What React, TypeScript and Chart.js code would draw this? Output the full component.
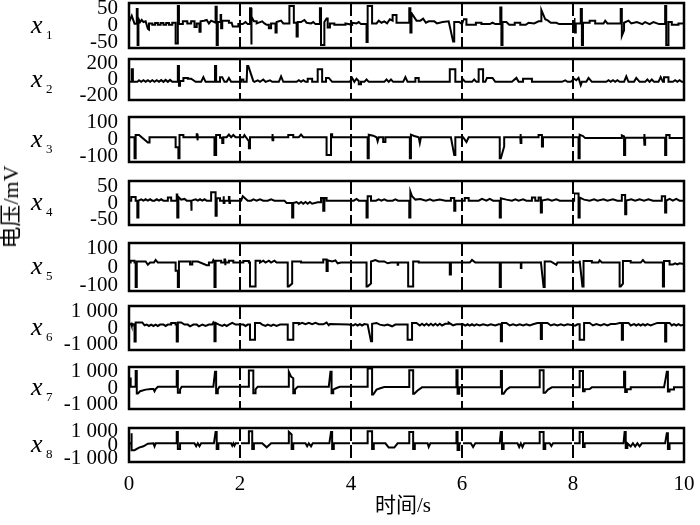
import React, { useEffect, useRef } from 'react';
import { Chart, registerables } from 'chart.js';

Chart.register(...registerables);

// ---------- data ----------
const seriesNames = ['1', '2', '3', '4', '5', '6', '7', '8'];
const yTickMax = [50, 200, 100, 50, 100, 1000, 1000, 1000];
const yRange = [65, 260, 130, 65, 130, 1300, 1300, 1300];
const xTicks = [0, 2, 4, 6, 8, 10];
const dividers = [2, 4, 6, 8];
const xTitle = '时间/s';
const yTitle = '电压/mV';

type P = [number, number];

const x1: P[] = [
  [0, 10], [0.05, 28], [0.1, 5], [0.14, 5], [0.14, 48], [0.155, 48], [0.155, -56], [0.17, -56], [0.17, 20],
  [0.2, 10], [0.23, 16], [0.26, 10], [0.3, 12], [0.34, -10], [0.36, -12], [0.36, 6], [0.42, 6], [0.42, 2],
  [0.47, 2], [0.47, 7], [0.52, 7], [0.52, 2], [0.57, 2], [0.57, 7], [0.62, 7], [0.62, 2], [0.67, 2], [0.67, 7],
  [0.72, 7], [0.72, 2], [0.78, 2], [0.78, 8], [0.84, 8], [0.84, -52], [0.88, -52], [0.88, 56], [0.9, 56], [0.9, 4],
  [0.97, 4], [0.97, 12], [1.05, 12], [1.05, 6], [1.12, 6], [1.12, 12], [1.18, 12], [1.18, -4], [1.22, -4], [1.22, 6],
  [1.27, 6], [1.27, -18], [1.29, -18], [1.29, 12], [1.35, 14], [1.4, 16], [1.44, 6], [1.48, 14], [1.56, 8],
  [1.56, 54], [1.58, 54], [1.58, -56], [1.6, -56], [1.6, 10], [1.65, 10], [1.65, 30], [1.66, 30], [1.66, -8],
  [1.68, -8], [1.68, 14], [1.8, 14], [1.8, 8], [1.85, 8], [1.87, -3], [1.97, -3], [1.97, 4], [2.05, 4], [2.1, 10],
  [2.14, 4], [2.18, 4], [2.18, 50], [2.2, 50], [2.2, -55], [2.21, -55], [2.21, 25], [2.25, 12], [2.3, 12], [2.3, 6],
  [2.4, 12], [2.44, 6], [2.48, 2], [2.52, 2], [2.52, -8], [2.56, -8], [2.56, 6], [2.64, 6], [2.64, -20], [2.66, -20],
  [2.66, 10], [2.74, 14], [2.78, 6], [2.89, 6], [2.89, 56], [2.97, 56], [2.97, 8], [3.02, 8], [3.02, -32], [3.04, -32],
  [3.04, 10], [3.1, 10], [3.16, 16], [3.2, 8], [3.28, 6], [3.32, 10], [3.36, 4], [3.44, 4], [3.44, 50], [3.46, 50],
  [3.46, -56], [3.52, -56], [3.52, 10], [3.56, 20], [3.58, 20], [3.58, -6], [3.62, -6], [3.62, 6], [3.7, 6], [3.7, 2],
  [3.9, 2], [3.9, 6], [4.02, 2], [4.02, 8], [4.1, 6], [4.14, 10], [4.18, 4], [4.28, 4], [4.28, -48], [4.3, -48],
  [4.3, 56], [4.38, 56], [4.38, 6], [4.46, 6], [4.5, 14], [4.55, 8], [4.6, 12], [4.65, 6], [4.7, 18], [4.75, 14],
  [4.75, 30], [4.82, 30], [4.82, 8], [5.05, 8], [5.05, 50], [5.07, 50], [5.07, -20], [5.09, -20], [5.09, 36],
  [5.18, 14], [5.25, 14], [5.3, 20], [5.35, 8], [5.4, 12], [5.5, 12], [5.55, 6], [5.65, 10], [5.76, 12], [5.84, -46],
  [5.86, -46], [5.86, 10], [5.95, 10], [6.0, 4], [6.03, 18], [6.08, 18], [6.08, 2], [6.25, 2], [6.25, 8], [6.35, 8],
  [6.35, 4], [6.5, 4], [6.55, 8], [6.6, 4], [6.69, 4], [6.69, 52], [6.71, 52], [6.71, -56], [6.73, -56], [6.73, 10],
  [6.8, 10], [6.85, 2], [6.95, 2], [6.95, 8], [7.05, 8], [7.05, 2], [7.15, 2], [7.2, 8], [7.3, 6], [7.38, 12],
  [7.43, 12], [7.43, 45], [7.5, 18], [7.55, 14], [7.6, 8], [7.7, 8], [7.75, 4], [8.02, 4], [8.02, 22], [8.03, 22],
  [8.03, -20], [8.05, -20], [8.05, 6], [8.14, 6], [8.14, 48], [8.16, 48], [8.16, -56], [8.18, -56], [8.18, 8],
  [8.3, 8], [8.3, 14], [8.4, 14], [8.4, 6], [8.55, 6], [8.58, 14], [8.62, 6], [8.86, 6], [8.86, 48], [8.88, 48],
  [8.88, -30], [8.92, -14], [8.92, 8], [9.0, 14], [9.05, 6], [9.15, 10], [9.25, 4], [9.3, 10], [9.38, 4], [9.45, 10],
  [9.55, 4], [9.66, 4], [9.66, 56], [9.68, 56], [9.68, -56], [9.72, -56], [9.72, 10], [9.78, 10], [9.78, 2],
  [9.9, 2], [9.9, 6], [10, 6],
];

const x2: P[] = [
  [0, -30], [0.05, -30], [0.05, 130], [0.07, 130], [0.07, -30], [0.15, -30], [0.18, -10], [0.22, -30], [0.26, -10],
  [0.3, -30], [0.34, -10], [0.38, -30], [0.42, -10], [0.46, -30], [0.5, -10], [0.54, -30], [0.58, -8], [0.62, -30],
  [0.66, -5], [0.7, -30], [0.74, -5], [0.78, -30], [0.88, -30], [0.88, 170], [0.9, 170], [0.9, -80], [0.92, -80],
  [0.92, -20], [0.98, -20], [0.98, 20], [1.06, 20], [1.06, 10], [1.12, 10], [1.2, -30], [1.3, -30], [1.34, 30],
  [1.38, -30], [1.55, -30], [1.55, 170], [1.57, 170], [1.57, -30], [1.64, -30], [1.64, 30], [1.68, 30], [1.72, -30],
  [1.76, -30], [1.8, 20], [1.84, -30], [2.02, -30], [2.02, 0], [2.06, 0], [2.06, -30], [2.12, -30], [2.13, 170],
  [2.15, 170], [2.24, -20], [2.26, -30], [2.32, -10], [2.36, -30], [2.42, 0], [2.46, -30], [2.54, -10], [2.58, -30],
  [2.7, -30], [2.74, 40], [2.78, -30], [3.02, -30], [3.06, -10], [3.1, -30], [3.14, -10], [3.18, -30], [3.22, -30],
  [3.22, 10], [3.3, 10], [3.3, -30], [3.4, -30], [3.4, 130], [3.48, 130], [3.48, -30], [3.55, -30], [3.55, 20],
  [3.6, 20], [3.66, -30], [3.98, -30], [4.02, 20], [4.06, -30], [4.1, 10], [4.14, -20], [4.14, -60], [4.18, -60],
  [4.18, -30], [4.24, -30], [4.28, 0], [4.32, -30], [4.6, -30], [4.64, 0], [4.68, -30], [4.72, 0], [4.76, -30],
  [4.94, -30], [4.98, 30], [5.02, -30], [5.16, -30], [5.16, 20], [5.22, 20], [5.22, -30], [5.78, -30], [5.78, 130],
  [5.88, 130], [5.88, -30], [6.0, -30], [6.02, 0], [6.06, -30], [6.18, -30], [6.22, 0], [6.26, -30], [6.3, -30],
  [6.3, 130], [6.38, 130], [6.38, -30], [6.42, -30], [6.45, 20], [6.55, 20], [6.6, -30], [6.9, -30], [6.98, 20],
  [7.02, -30], [7.1, -30], [7.1, 10], [7.26, 10], [7.26, -30], [7.8, -30], [7.86, -10], [7.9, -30], [7.96, -30],
  [8.02, 10], [8.06, -10], [8.1, 20], [8.14, -70], [8.16, -30], [8.24, -30], [8.28, 20], [8.34, -30], [8.6, -30],
  [8.64, -10], [8.68, -30], [8.72, -10], [8.76, -30], [8.8, -10], [8.84, -30], [8.92, -30], [8.96, 40], [9.0, -30],
  [9.1, -30], [9.14, 20], [9.2, -30], [9.3, -30], [9.34, 0], [9.38, -30], [9.42, 0], [9.46, -30], [9.54, -30],
  [9.58, 30], [9.62, -30], [9.64, -30], [9.64, 30], [9.72, 30], [9.72, -30], [9.8, -30], [9.84, -10], [9.88, -30],
  [9.92, -10], [9.96, -30], [10, -30],
];

const x3: P[] = [
  [0, 13], [0.1, 13], [0.1, -108], [0.12, -108], [0.12, 26], [0.18, 26], [0.34, -18], [0.37, -18], [0.37, 13],
  [0.84, 13], [0.84, -45], [0.89, -45], [0.89, -108], [0.91, -108], [0.91, 26], [0.98, 26], [0.98, 13], [1.22, 13],
  [1.22, 30], [1.23, 30], [1.23, -5], [1.24, -5], [1.24, 13], [1.54, 13], [1.54, -90], [1.57, -90], [1.57, 26],
  [1.64, 26], [1.64, 10], [1.68, 10], [1.68, -20], [1.7, -20], [1.7, 13], [1.76, 13], [1.8, 28], [1.84, 13],
  [1.88, 26], [1.92, 13], [2.06, 13], [2.08, 25], [2.16, -10], [2.16, -50], [2.18, -50], [2.18, 13], [2.58, 13],
  [2.58, 32], [2.59, 32], [2.59, -5], [2.6, -5], [2.6, 13], [2.87, 13], [2.87, 26], [2.96, 26], [2.96, 13],
  [3.06, 13], [3.1, 28], [3.14, 13], [3.56, 13], [3.56, -90], [3.64, -90], [3.64, 30], [3.66, 30], [3.66, 13],
  [4.3, 13], [4.3, -108], [4.32, -108], [4.32, 28], [4.4, 22], [4.46, 13], [4.48, -10], [4.5, 13], [4.58, 13],
  [4.58, -15], [4.62, -15], [4.62, 13], [5.06, 13], [5.06, -108], [5.08, -108], [5.08, 28], [5.14, 20], [5.22, 13],
  [5.24, -20], [5.26, 13], [5.8, 13], [5.86, -90], [5.88, -90], [5.88, 13], [6.02, 13], [6.08, -15], [6.12, 13],
  [6.68, 13], [6.68, -108], [6.7, -108], [6.76, -40], [6.76, 13], [7.05, 13], [7.05, 32], [7.06, 32], [7.06, -20],
  [7.07, -20], [7.07, 13], [7.38, 13], [7.38, 26], [7.44, 26], [7.44, -40], [7.46, -40], [7.46, 13], [8.1, 13],
  [8.1, -108], [8.12, -108], [8.12, 28], [8.18, 20], [8.22, 8], [8.88, 8], [8.88, 24], [8.92, 18], [8.92, -90],
  [8.94, -90], [8.94, 10], [9.28, 10], [9.28, 32], [9.29, 32], [9.29, -30], [9.3, -30], [9.3, 10], [9.66, 10],
  [9.66, -90], [9.68, -90], [9.68, 26], [9.74, 26], [9.74, 8], [10, 8],
];

const x4: P[] = [
  [0, 7], [0.04, 7], [0.04, 18], [0.12, 18], [0.12, 7], [0.15, 7], [0.15, -43], [0.17, -43], [0.17, 7], [0.22, 11],
  [0.26, 7], [0.3, 11], [0.34, 7], [0.38, 11], [0.42, 7], [0.46, 7], [0.5, 11], [0.54, 7], [0.58, 11], [0.62, 7],
  [0.7, 7], [0.7, 16], [0.76, 16], [0.76, 7], [0.86, 7], [0.86, 25], [0.87, 25], [0.87, -43], [0.89, -43], [0.89, 18],
  [0.94, 10], [1.0, 12], [1.04, 7], [1.12, 7], [1.12, -23], [1.13, -23], [1.13, 7], [1.2, 11], [1.24, 7], [1.28, 11],
  [1.32, 7], [1.36, 11], [1.4, 7], [1.48, 7], [1.48, 32], [1.56, 32], [1.56, -38], [1.58, -38], [1.58, 14],
  [1.64, 14], [1.64, 7], [1.7, 7], [1.7, 20], [1.71, 20], [1.71, 0], [1.72, 0], [1.72, 7], [1.8, 7], [1.8, 18],
  [1.81, 18], [1.81, 0], [1.82, 0], [1.82, 7], [2.02, 7], [2.05, 20], [2.14, 7], [2.2, 7], [2.24, 11], [2.3, 7],
  [2.36, 11], [2.42, 7], [2.5, 7], [2.56, 11], [2.62, 7], [2.8, 7], [2.84, 0], [2.94, 0], [2.94, -43], [2.96, -43],
  [2.96, 0], [3.02, 3], [3.06, -2], [3.1, 3], [3.14, -2], [3.18, 3], [3.22, -2], [3.26, 3], [3.3, -2], [3.4, 2],
  [3.46, 2], [3.46, 15], [3.5, 15], [3.5, -23], [3.52, -23], [3.52, 15], [3.56, 15], [3.56, 7], [4.05, 7],
  [4.1, 12], [4.14, 7], [4.28, 7], [4.28, -43], [4.3, -43], [4.3, 20], [4.36, 20], [4.36, 7], [4.45, 7], [4.5, 11],
  [4.55, 7], [4.6, 11], [4.65, 7], [4.75, 7], [4.8, 11], [4.85, 7], [5.05, 7], [5.05, -43], [5.07, -43], [5.07, 34],
  [5.1, 20], [5.16, 10], [5.25, 12], [5.35, 7], [5.42, 11], [5.48, 7], [5.6, 10], [5.7, 7], [5.8, 7], [5.8, 15],
  [5.86, 15], [5.86, -23], [5.88, -23], [5.88, 7], [6.05, 7], [6.05, 15], [6.12, 15], [6.12, 7], [6.3, 7],
  [6.36, 12], [6.44, 7], [6.5, 12], [6.56, 7], [6.68, 7], [6.68, -43], [6.7, -43], [6.7, 14], [6.8, 10], [6.9, 7],
  [6.96, 11], [7.02, 7], [7.1, 11], [7.16, 7], [7.26, 7], [7.26, 16], [7.32, 16], [7.32, 7], [7.38, 7], [7.38, 16],
  [7.42, 16], [7.42, -28], [7.44, -28], [7.44, 7], [7.55, 11], [7.62, 7], [7.7, 11], [7.76, 7], [8.02, 7],
  [8.02, 28], [8.1, 28], [8.1, -43], [8.12, -43], [8.12, 16], [8.2, 10], [8.3, 7], [8.38, 11], [8.44, 7],
  [8.55, 11], [8.62, 7], [8.72, 11], [8.8, 7], [8.88, 7], [8.88, 24], [8.94, 24], [8.94, -33], [8.96, -33],
  [8.96, 7], [9.05, 11], [9.12, 7], [9.2, 11], [9.28, 7], [9.36, 11], [9.44, 7], [9.6, 7], [9.6, 20], [9.66, 20],
  [9.66, -28], [9.68, -28], [9.68, 7], [9.74, 12], [9.8, 7], [9.86, 12], [9.92, 7], [10, 7],
];

const x5: P[] = [
  [0, 24], [0.03, 24], [0.03, 34], [0.1, 34], [0.1, 24], [0.12, 24], [0.12, -108], [0.14, -108], [0.14, 30],
  [0.3, 30], [0.34, 12], [0.38, 24], [0.45, 24], [0.48, 38], [0.52, 24], [0.84, 24], [0.84, -20], [0.88, -20],
  [0.88, -108], [0.9, -108], [0.9, 30], [1.1, 30], [1.1, 14], [1.14, 14], [1.14, 30], [1.24, 30], [1.4, 10],
  [1.44, 10], [1.44, 24], [1.5, 24], [1.52, 38], [1.54, 30], [1.54, -108], [1.56, -108], [1.56, 34], [1.66, 34],
  [1.66, 24], [1.72, 24], [1.72, 40], [1.73, 40], [1.73, 10], [1.74, 10], [1.74, 24], [1.8, 24], [1.8, 34],
  [1.88, 34], [1.88, 24], [2.06, 24], [2.06, 32], [2.16, 32], [2.16, 24], [2.18, 24], [2.18, -105], [2.28, -105],
  [2.28, 34], [2.36, 34], [2.36, 24], [2.42, 34], [2.46, 24], [2.52, 34], [2.56, 24], [2.62, 34], [2.66, 24],
  [2.86, 24], [2.86, -105], [2.88, -105], [2.94, -90], [2.94, 30], [3.1, 30], [3.1, 24], [3.5, 24], [3.5, 40],
  [3.56, 40], [3.56, -22], [3.58, -22], [3.58, 36], [3.66, 30], [3.72, 36], [3.76, 20], [3.82, 24], [4.28, 24],
  [4.28, -105], [4.3, -105], [4.36, -90], [4.36, 30], [4.44, 38], [4.5, 30], [4.6, 30], [4.66, 20], [4.72, 24],
  [4.84, 24], [4.84, 12], [4.85, 12], [4.85, 24], [5.03, 24], [5.03, -105], [5.12, -105], [5.12, 30], [5.22, 30],
  [5.22, 24], [5.78, 24], [5.78, -40], [5.8, -40], [5.8, 24], [6.14, 24], [6.18, 38], [6.24, 24], [6.68, 24],
  [6.68, -108], [6.7, -108], [6.7, 24], [7.06, 24], [7.06, -5], [7.07, -5], [7.07, 24], [7.42, 24], [7.42, 30],
  [7.47, -108], [7.49, -108], [7.49, 30], [7.6, 30], [7.7, 12], [7.72, 24], [8.12, 24], [8.12, 34], [8.17, -105],
  [8.19, -105], [8.19, 32], [8.34, 32], [8.34, 24], [8.46, 24], [8.48, 36], [8.52, 24], [8.84, 24], [8.84, -105],
  [8.86, -105], [8.9, -90], [8.9, 32], [9.04, 32], [9.04, 24], [9.22, 24], [9.26, 38], [9.3, 24], [9.62, 24],
  [9.62, -105], [9.64, -105], [9.64, 32], [9.74, 32], [9.74, 14], [9.8, 14], [9.84, 20], [9.88, 14], [9.92, 20],
  [10, 16],
];

const x6: P[] = [
  [0, 220], [0.04, 220], [0.04, 330], [0.05, 330], [0.05, 150], [0.06, 150], [0.06, 220], [0.1, 220], [0.1, -800],
  [0.12, -800], [0.12, 330], [0.24, 330], [0.28, 160], [0.32, 200], [0.36, 120], [0.4, 200], [0.44, 120],
  [0.48, 200], [0.52, 120], [0.56, 200], [0.62, 200], [0.66, 120], [0.7, 200], [0.76, 200], [0.76, 300],
  [0.84, 300], [0.84, 200], [0.86, 200], [0.86, -800], [0.88, -800], [0.88, 330], [0.94, 330], [1.0, 200],
  [1.06, 200], [1.1, 100], [1.16, 200], [1.22, 200], [1.26, 100], [1.32, 200], [1.38, 120], [1.44, 200],
  [1.5, 200], [1.52, 330], [1.54, 250], [1.54, -780], [1.56, -780], [1.56, 300], [1.62, 200], [1.68, 120],
  [1.72, 200], [1.76, 120], [1.8, 200], [1.86, 300], [1.92, 200], [2.06, 200], [2.1, 120], [2.14, 200],
  [2.18, 200], [2.18, -700], [2.27, -700], [2.27, 300], [2.36, 300], [2.4, 200], [2.46, 120], [2.5, 200],
  [2.56, 120], [2.6, 200], [2.66, 120], [2.72, 200], [2.86, 200], [2.86, -700], [2.96, -700], [2.96, 300],
  [3.06, 300], [3.06, 220], [3.12, 300], [3.18, 220], [3.24, 300], [3.3, 220], [3.36, 300], [3.42, 220],
  [3.5, 220], [3.56, 320], [3.6, 160], [3.62, 240], [3.96, 200], [4.04, 150], [4.08, 230], [4.12, 150],
  [4.16, 230], [4.2, 150], [4.24, 230], [4.3, 200], [4.36, -780], [4.38, -780], [4.38, 250], [4.46, 300],
  [4.52, 200], [4.6, 150], [4.66, 200], [4.74, 100], [4.8, 200], [5.02, 200], [5.02, -700], [5.1, -700],
  [5.1, 300], [5.18, 300], [5.24, 150], [5.28, 250], [5.32, 150], [5.36, 250], [5.4, 150], [5.44, 250],
  [5.48, 150], [5.52, 250], [5.56, 150], [5.6, 250], [5.64, 150], [5.7, 250], [5.76, 250], [5.76, 320],
  [5.84, 160], [5.9, 220], [6.02, 220], [6.06, 140], [6.1, 220], [6.14, 140], [6.18, 220], [6.22, 140],
  [6.26, 220], [6.32, 150], [6.38, 220], [6.46, 150], [6.52, 220], [6.6, 150], [6.66, 220], [6.7, 220],
  [6.7, -780], [6.72, -780], [6.72, 300], [6.8, 300], [6.86, 150], [6.92, 220], [6.98, 150], [7.04, 220],
  [7.1, 150], [7.16, 220], [7.22, 150], [7.28, 220], [7.36, 300], [7.42, 300], [7.42, -650], [7.44, -650],
  [7.44, 300], [7.54, 300], [7.6, 150], [7.66, 220], [7.72, 150], [7.78, 220], [7.84, 150], [7.9, 220],
  [8.04, 140], [8.08, 220], [8.12, 220], [8.12, -700], [8.2, -700], [8.2, 300], [8.3, 300], [8.36, 150],
  [8.42, 230], [8.5, 150], [8.56, 230], [8.62, 150], [8.68, 230], [8.76, 230], [8.84, 300], [8.88, 300],
  [8.88, -700], [8.9, -700], [8.9, 300], [9.0, 300], [9.04, 150], [9.1, 230], [9.14, 150], [9.18, 230],
  [9.22, 150], [9.26, 230], [9.3, 150], [9.34, 230], [9.4, 150], [9.46, 230], [9.52, 300], [9.66, 300],
  [9.66, -800], [9.68, -800], [9.68, 300], [9.74, 300], [9.78, 150], [9.82, 230], [9.86, 150], [9.9, 230],
  [9.94, 150], [10, 200],
];

const x7: P[] = [
  [0, 590], [0.03, 590], [0.03, 80], [0.12, 80], [0.12, 1050], [0.14, 1050], [0.14, -340], [0.16, -340],
  [0.2, -200], [0.3, -100], [0.4, -60], [0.44, -60], [0.46, -200], [0.48, -60], [0.52, 80], [0.86, 80],
  [0.86, 1050], [0.88, 1050], [0.88, -300], [0.92, -300], [0.92, -100], [0.95, 80], [1.52, 80], [1.55, 1000],
  [1.57, 1000], [1.57, -320], [1.6, -320], [1.6, -100], [1.63, 80], [2.16, 80], [2.16, 1080], [2.24, 1080],
  [2.24, -320], [2.28, -320], [2.28, -80], [2.32, 80], [2.88, 80], [2.88, 1000], [2.92, 700], [2.96, 600],
  [2.96, -330], [2.99, -330], [2.99, -100], [3.04, 80], [3.6, 80], [3.63, 1000], [3.65, 1000], [3.65, -320],
  [3.68, -320], [3.68, -100], [3.74, 0], [3.8, 80], [4.3, 80], [4.3, 1200], [4.38, 1200], [4.38, -400],
  [4.4, -400], [4.46, -100], [4.54, 0], [4.6, 60], [5.05, 60], [5.05, 1100], [5.12, 1100], [5.12, -350],
  [5.14, -350], [5.2, -150], [5.28, 40], [5.9, 40], [5.9, 1100], [5.92, 1100], [5.92, -350], [5.95, -350],
  [5.95, 40], [6.7, 40], [6.7, 1050], [6.72, 1050], [6.72, -350], [6.75, -350], [6.8, -100], [6.86, 40],
  [7.4, 40], [7.4, 1100], [7.47, 1100], [7.47, -300], [7.5, -300], [7.55, -100], [7.62, 40], [8.12, 40],
  [8.12, 1050], [8.18, 1050], [8.18, -200], [8.21, -200], [8.21, -80], [8.3, -60], [8.34, 40], [8.92, 40],
  [8.92, 1000], [8.94, 1000], [8.94, -250], [8.97, -250], [8.97, -80], [9.04, -80], [9.04, 40], [9.64, 40],
  [9.67, 600], [9.69, 1000], [9.71, 1000], [9.71, -220], [9.74, -220], [9.74, -100], [9.82, -100], [9.82, 40],
  [10, 40],
];

const x8: P[] = [
  [0, 130], [0.04, 130], [0.04, 900], [0.05, 900], [0.05, -400], [0.1, -400], [0.18, -200], [0.26, -100],
  [0.34, 100], [0.44, 130], [0.46, -100], [0.48, 130], [0.86, 130], [0.86, 1000], [0.88, 1000], [0.88, -300],
  [0.92, -300], [0.92, 130], [1.18, 130], [1.21, -100], [1.24, 130], [1.27, -100], [1.3, 130], [1.53, 130],
  [1.56, 1000], [1.58, 1000], [1.58, -300], [1.61, -300], [1.61, 130], [1.84, 130], [1.86, -50], [1.88, 130],
  [1.9, -50], [1.92, 130], [2.16, 130], [2.16, 1050], [2.22, 1050], [2.22, -300], [2.25, -300], [2.25, 130],
  [2.4, 130], [2.48, -180], [2.56, 130], [2.88, 130], [2.88, 1000], [2.93, 800], [2.93, -300], [2.96, -300],
  [2.96, 130], [3.18, 130], [3.21, -100], [3.24, 130], [3.28, -100], [3.31, 130], [3.61, 130], [3.64, 1000],
  [3.66, 1000], [3.66, -300], [3.69, -300], [3.69, 130], [4.3, 130], [4.3, 1050], [4.38, 1050], [4.38, -300],
  [4.41, -300], [4.41, 130], [4.62, 130], [4.68, -200], [4.78, -200], [4.84, 130], [5.05, 130], [5.05, 1000],
  [5.12, 1000], [5.12, -300], [5.15, -300], [5.15, 130], [5.38, 130], [5.4, -150], [5.43, 130], [5.9, 130],
  [5.9, 1000], [5.92, 1000], [5.92, -380], [5.95, -380], [5.95, 130], [6.16, 130], [6.2, -150], [6.24, 130],
  [6.68, 130], [6.7, 1000], [6.72, 1000], [6.72, -300], [6.75, -300], [6.75, 130], [7.0, 130], [7.03, -150],
  [7.06, 130], [7.09, -150], [7.12, 130], [7.4, 130], [7.4, 1000], [7.47, 1000], [7.47, -300], [7.5, -300],
  [7.5, 130], [7.58, 130], [7.61, -80], [7.64, 130], [8.12, 130], [8.12, 1000], [8.18, 1000], [8.18, -150],
  [8.21, -150], [8.21, 130], [8.91, 130], [8.93, 1000], [8.95, 1000], [8.95, -220], [8.98, -220], [8.98, 130],
  [9.04, -120], [9.08, 130], [9.12, -120], [9.16, 130], [9.2, -100], [9.24, 130], [9.66, 130], [9.69, 900],
  [9.71, 900], [9.71, -300], [9.74, -300], [9.74, 130], [10, 130],
];

const allSeries = [x1, x2, x3, x4, x5, x6, x7, x8];

// ---------- layout ----------
const boxTop = [3, 59, 117, 181, 243, 306, 367, 428];
const boxBottom = [48, 100, 162, 225, 291, 350, 409, 462];
const LEFT = 129;
const RIGHT = 684;
const PAD = 14;
const XAXIS_H = 40;
const FONT = "'Liberation Serif','Times New Roman',serif";
const FONT_CJK = "'Liberation Serif','Noto Sans CJK SC',serif";

function fmt(n: number): string {
  const a = Math.abs(n);
  const s = a >= 1000 ? `${Math.floor(a / 1000)} ${String(a % 1000).padStart(3, '0')}` : String(a);
  return n < 0 ? '-' + s : s;
}

const framePlugin = {
  id: 'frame',
  afterDatasetsDraw(chart: any) {
    const { ctx, chartArea: a, scales } = chart;
    ctx.save();
    for (const d of dividers) {
      const x = scales.x.getPixelForValue(d);
      ctx.beginPath();
      ctx.moveTo(x, a.top);
      ctx.lineTo(x, a.bottom);
      ctx.lineWidth = 2;
      ctx.setLineDash([]);
      ctx.strokeStyle = '#fff';
      ctx.stroke();
      ctx.setLineDash([13, 4]);
      ctx.strokeStyle = '#000';
      ctx.stroke();
    }
    ctx.setLineDash([]);
    ctx.lineWidth = 2.5;
    ctx.strokeStyle = '#000';
    ctx.strokeRect(a.left, a.top, a.right - a.left, a.bottom - a.top);
    ctx.restore();
  },
};

function Panel({ index }: { index: number }) {
  const ref = useRef<HTMLCanvasElement | null>(null);
  const isLast = index === allSeries.length - 1;
  const top = boxTop[index] - PAD;
  const height = boxBottom[index] - boxTop[index] + PAD + (isLast ? XAXIS_H : PAD);

  useEffect(() => {
    if (!ref.current) return;
    const M = yTickMax[index];
    const R = yRange[index];
    const chart = new Chart(ref.current, {
      type: 'line',
      data: {
        datasets: [
          {
            data: allSeries[index].map(([x, y]) => ({ x, y })),
            borderColor: '#000',
            borderWidth: 2,
            pointRadius: 0,
            tension: 0,
            fill: false,
          },
        ],
      },
      options: {
        responsive: false,
        maintainAspectRatio: false,
        animation: false,
        events: [],
        layout: { padding: { top: PAD, bottom: isLast ? 0 : PAD, left: 0, right: 700 - RIGHT } },
        plugins: { legend: { display: false }, tooltip: { enabled: false }, title: { display: false } },
        scales: {
          x: {
            type: 'linear',
            min: 0,
            max: 10,
            display: isLast,
            grid: { display: false, drawTicks: false },
            border: { display: false },
            afterBuildTicks: (ax: any) => {
              ax.ticks = xTicks.map((v) => ({ value: v }));
            },
            afterFit: (ax: any) => {
              ax.height = isLast ? XAXIS_H : 0;
              ax.paddingLeft = 0;
              ax.paddingRight = 0;
            },
            ticks: {
              padding: 10,
              autoSkip: false,
              maxRotation: 0,
              color: '#000',
              font: { family: FONT, size: 21 },
              callback: (v: any) => String(v),
            },
          },
          y: {
            type: 'linear',
            min: -R,
            max: R,
            grid: { display: false, drawTicks: false },
            border: { display: false },
            afterBuildTicks: (ax: any) => {
              ax.ticks = [-M, 0, M].map((v) => ({ value: v }));
            },
            afterFit: (ax: any) => {
              ax.width = LEFT;
              ax.paddingTop = 0;
              ax.paddingBottom = 0;
            },
            ticks: {
              padding: 11,
              autoSkip: false,
              color: '#000',
              font: { family: FONT, size: 21 },
              callback: (v: any) => fmt(Number(v)),
            },
          },
        },
      },
      plugins: [framePlugin],
    } as any);
    return () => chart.destroy();
  }, [index]);

  return (
    <canvas
      ref={ref}
      width={700}
      height={height}
      style={{ position: 'absolute', left: 0, top, width: 700, height, display: 'block' }}
    />
  );
}

export default function App() {
  return (
    <div
      style={{
        position: 'absolute',
        left: 0,
        top: 0,
        width: 700,
        height: 525,
        background: '#fff',
        overflow: 'hidden',
      }}
    >
      {allSeries.map((_, i) => (
        <Panel key={i} index={i} />
      ))}
      {seriesNames.map((n, i) => {
        const c = (boxTop[i] + boxBottom[i]) / 2;
        return (
          <React.Fragment key={n}>
            <div
              style={{
                position: 'absolute',
                left: 31,
                top: c - 13.8,
                fontSize: 26,
                lineHeight: 1,
                fontStyle: 'italic',
                fontFamily: FONT,
                color: '#000',
              }}
            >
              x
            </div>
            <div
              style={{
                position: 'absolute',
                left: 46,
                top: c + 2.1,
                fontSize: 13,
                lineHeight: 1,
                fontFamily: FONT,
                color: '#000',
              }}
            >
              {n}
            </div>
          </React.Fragment>
        );
      })}
      <div
        style={{
          position: 'absolute',
          left: 11,
          top: 207,
          transform: 'translate(-50%, -50%) rotate(-90deg)',
          fontSize: 22,
          lineHeight: 1,
          fontFamily: FONT_CJK,
          whiteSpace: 'nowrap',
          color: '#000',
        }}
      >
        {yTitle}
      </div>
      <div
        style={{
          position: 'absolute',
          left: 403,
          top: 505,
          transform: 'translate(-50%, -50%)',
          fontSize: 21,
          lineHeight: 1,
          fontFamily: FONT_CJK,
          whiteSpace: 'nowrap',
          color: '#000',
        }}
      >
        {xTitle}
      </div>
    </div>
  );
}
